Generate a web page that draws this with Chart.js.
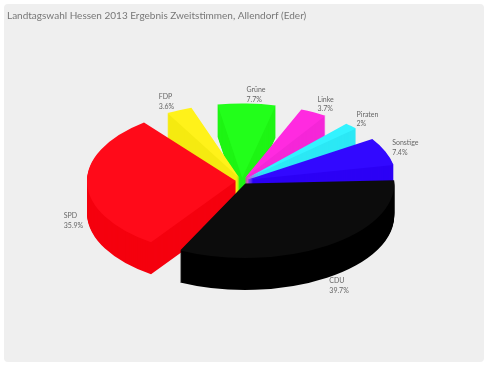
<!DOCTYPE html>
<html lang="de">
<head>
  <meta charset="UTF-8">
  <title>Landtagswahl Hessen 2013</title>
  <script src="https://cdn.jsdelivr.net/npm/chart.js"></script>
  <style>
    body { margin: 0; background: #fff; }
    #panel { position: absolute; left: 4px; top: 4px; width: 480px; height: 358px; background: #efefef; border-radius: 4px; }
  </style>
</head>
<body>
  <div id="panel"><canvas id="wahlChart" width="480" height="358"></canvas></div>

  <script>
    const titleText = 'Landtagswahl Hessen 2013 Ergebnis Zweitstimmen, Allendorf (Eder)';
    const parties = ['CDU', 'SPD', 'FDP', 'Grüne', 'Linke', 'Piraten', 'Sonstige'];
    const percents = [39.7, 35.9, 3.6, 7.7, 3.7, 2, 7.4];
    const topColors = ['#0c0c0c', '#ff0a19', '#fff21a', '#22ff1a', '#ff2ae0', '#33f3ff', '#3208ff'];
    const sideColors = ['#000000', '#f5000e', '#f5ea10', '#1ef514', '#f526d8', '#2ce8f5', '#2c00f5'];

    // look of the fake 3D
    const squash = 0.5;   // ellipse height / width
    const depth = 32;     // extrusion in px
    const gapDeg = 8.8;   // empty wedge between two slices
    // label shift from the slice rim, px
    const labelShift = [[6, 43], [-30, 38], [-23, -11], [0, -12], [7, -11], [10, -9], [13, -5]];

    const fakePie3d = {
      id: 'fakePie3d',
      afterDatasetsUpdate(chart) {
        // narrow the slices so that a gap stays between them
        const arcs = chart.getDatasetMeta(0).data;
        const gap = gapDeg * Math.PI / 180;
        const base = arcs[0].startAngle;
        const k = 1 - arcs.length * gap / (2 * Math.PI);
        arcs.forEach((arc, i) => {
          const start = base + (arc.startAngle - base) * k + i * gap;
          const span = (arc.endAngle - arc.startAngle) * k;
          arc.startAngle = start;
          arc.endAngle = start + span;
          arc.circumference = span;
          // ArcElement makes thin offset slices longer, keep the same radius for all
          arc.outerRadius -= arc.options.offset / 4 * (1 - Math.sin(Math.min(Math.PI, span)));
        });
      },
      beforeDatasetsDraw(chart) {
        const ctx = chart.ctx;
        const arcs = chart.getDatasetMeta(0).data;
        const mid = a => (a.startAngle + a.endAngle) / 2;
        // back slices first
        const order = arcs.map((a, i) => i).sort((p, q) => Math.sin(mid(arcs[p])) - Math.sin(mid(arcs[q])));
        const cy = arcs[0].y;
        order.forEach(i => {
          const arc = arcs[i];
          const topOptions = arc.options;
          for (let d = depth; d >= 0; d--) {
            ctx.save();
            ctx.translate(0, cy + d);
            ctx.scale(1, squash);
            ctx.translate(0, -cy);
            arc.options = Object.assign({}, topOptions, { backgroundColor: d ? sideColors[i] : topColors[i] });
            arc.draw(ctx);
            ctx.restore();
          }
          arc.options = topOptions;
        });
        // labels
        const rim = arcs[0].outerRadius;
        ctx.fillStyle = '#666';
        ctx.font = '7px Lato';
        ctx.textBaseline = 'middle';
        arcs.forEach((arc, i) => {
          const x = arc.x + Math.cos(mid(arc)) * rim + labelShift[i][0];
          const y = cy + Math.sin(mid(arc)) * rim * squash + labelShift[i][1];
          ctx.fillText(parties[i], x, y - 5);
          ctx.fillText(percents[i] + '%', x, y + 4.5);
        });
        return false;
      }
    };

    new Chart(document.getElementById('wahlChart'), {
      type: 'pie',
      data: {
        labels: parties,
        datasets: [{
          data: percents,
          backgroundColor: topColors,
          borderWidth: 0,
          offset: 24,
          radius: 149
        }]
      },
      options: {
        responsive: false,
        animation: false,
        rotation: 87.5,
        layout: { padding: { top: 0, bottom: 32, left: 3, right: 7 } },
        plugins: {
          legend: { display: false },
          tooltip: { enabled: false },
          title: {
            display: true,
            text: titleText,
            align: 'start',
            color: '#777',
            font: { family: 'Lato', size: 10, weight: 'normal' },
            padding: { top: 6, bottom: 10 }
          }
        }
      },
      plugins: [fakePie3d]
    });
  </script>
</body>
</html>
